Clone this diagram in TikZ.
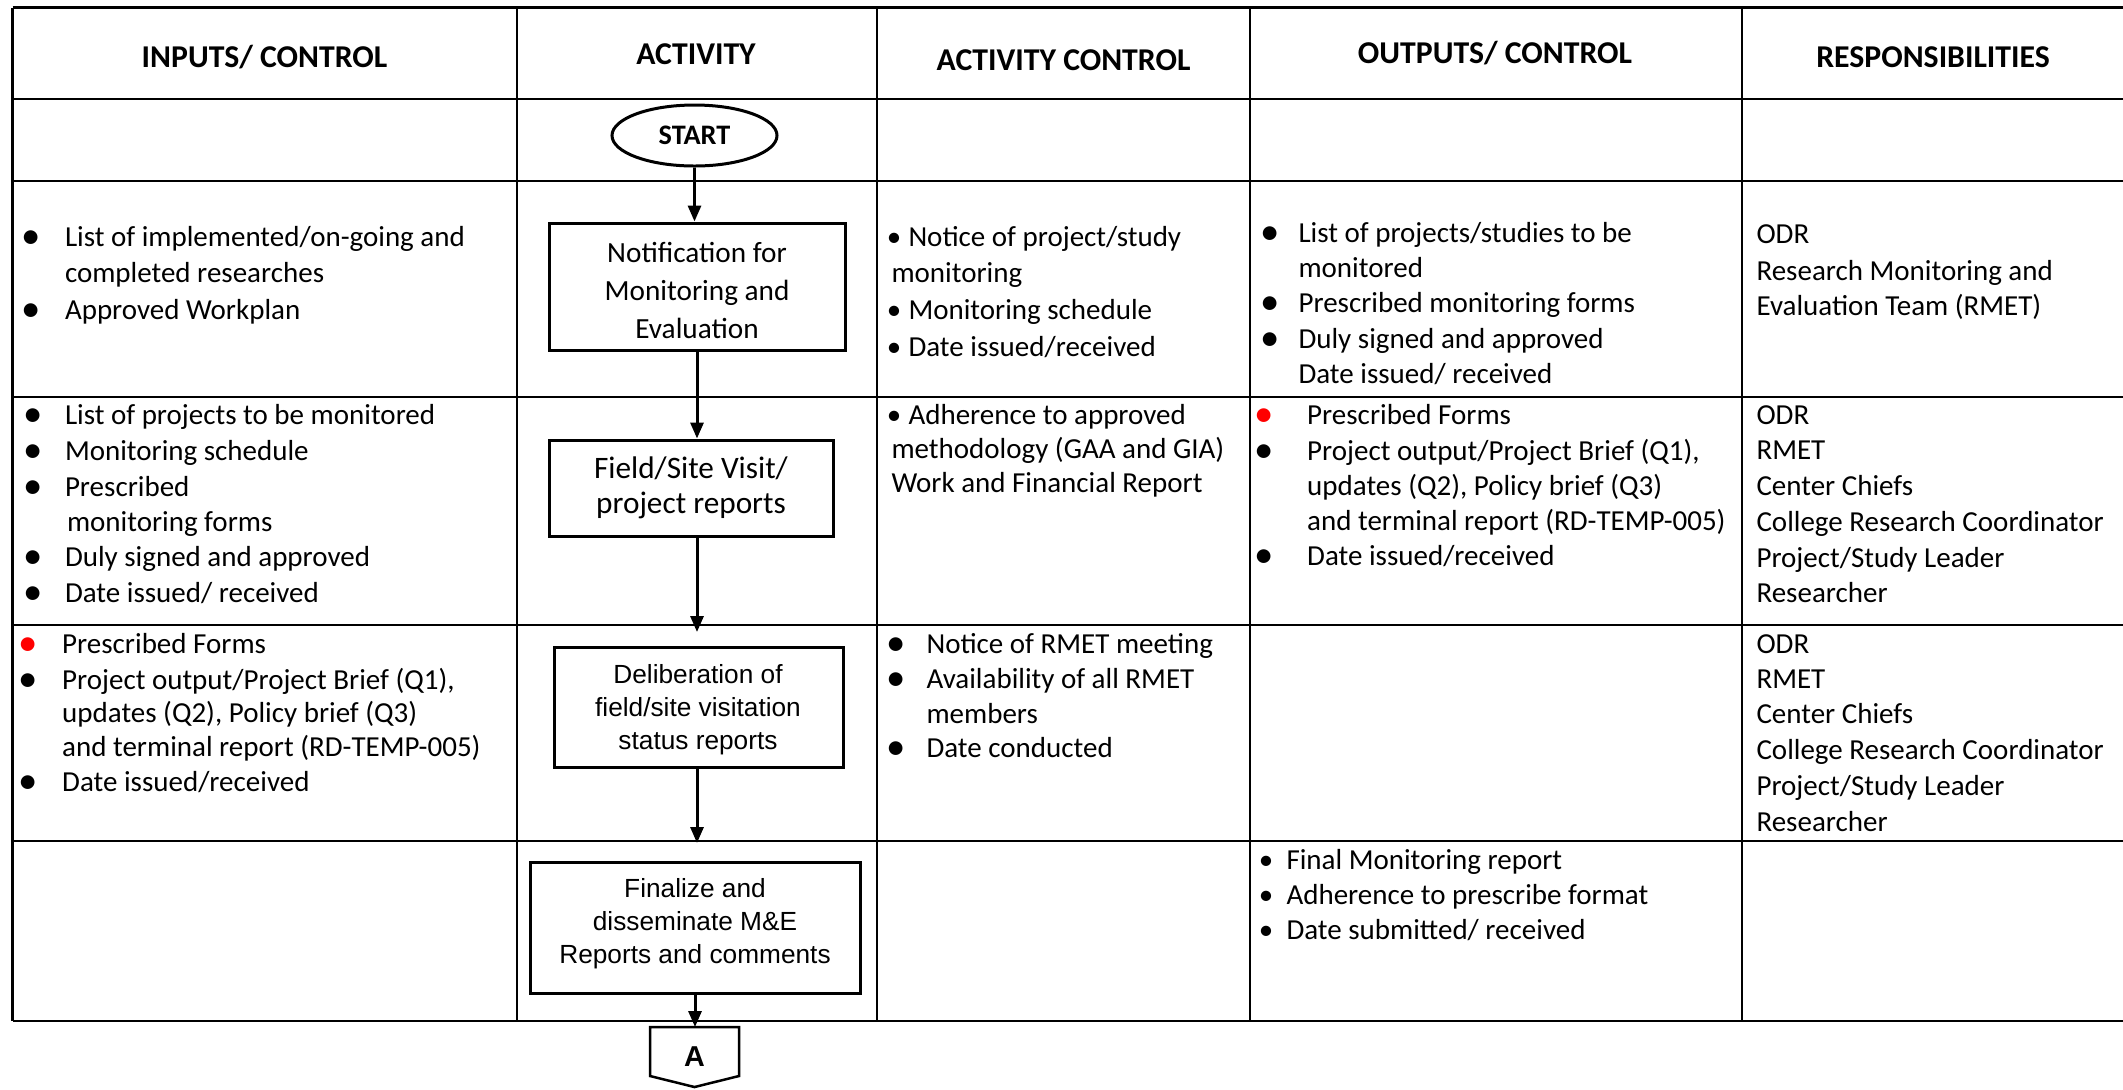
\documentclass[tikz,border=0pt]{standalone}
\usepackage{fontspec}
\setmainfont{Carlito}
\newfontfamily\arialf{Liberation Sans}
\usetikzlibrary{arrows.meta,shapes.geometric}
\newcommand\Tx[3]{\node[txt] (#1) at (#2) {#3};}
\newcommand\Bu[2]{\node[bigbul] (#1) at (#2) {•};}
\newcommand\Sb[2]{\node[bul] (#1) at (#2) {•};}
\newcommand\RBu[2]{\node[bigbul,text=red] (#1) at (#2) {•};}
\newcommand\Ct[4]{\node[#1] (#2) at (#3) {#4};}
\begin{document}
\begin{tikzpicture}[x=0.4pt,y=-0.4pt,
  txt/.style={anchor=base west,inner sep=0pt,font=\fontsize{11.6}{14}\selectfont},
  bul/.style={anchor=base,inner sep=0pt,font=\fontsize{11.6}{14}\selectfont},
  bigbul/.style={anchor=base,inner sep=0pt,yshift=-0.8pt,font=\fontsize{15.5}{17}\selectfont},
  hdr/.style={anchor=base,inner sep=0pt,font=\bfseries\fontsize{12.7}{15}\selectfont},
  cal/.style={anchor=base,inner sep=0pt,font=\fontsize{11.7}{14}\selectfont},
  calb/.style={anchor=base,inner sep=0pt,font=\fontsize{12.5}{15}\selectfont},
  ari/.style={anchor=base,inner sep=0pt,font=\arialf\fontsize{10.5}{13}\selectfont},
  hline/.style={line width=0.95pt},
  vline/.style={line width=0.8pt},
  procbox/.style={draw,line width=1.2pt,rectangle,inner sep=0pt},
  flow/.style={line width=1.2pt,-{Triangle[length=6.4pt,width=5.2pt]}},
]
\path[use as bounding box] (0,0) rectangle (2123,1089);
\begin{scope}
\clip (0,0) rectangle (2123,1089);
% table grid
\foreach \yy in {7.5,99,181,397,625,841,1021}
  \draw[hline] (12.5,\yy) -- (2130,\yy);
\draw[hline] (12.5,7.5) -- (12.5,1021);
\foreach \xx in {517,877,1250,1742}
  \draw[vline] (\xx,7.5) -- (\xx,1021);
\end{scope}

% headers
\Ct{hdr}{h1}{264.5,67}{INPUTS/ CONTROL}
\Ct{hdr}{h2}{696,64.5}{ACTIVITY}
\Ct{hdr}{h3}{1063.5,70.5}{ACTIVITY CONTROL}
\Ct{hdr}{h4}{1495,63.5}{OUTPUTS/ CONTROL}
\Ct{hdr}{h5}{1933,67.5}{RESPONSIBILITIES}

% flow shapes
\node[draw,ellipse,line width=1.2pt,inner sep=0pt,minimum width=66pt,minimum height=24.4pt,
      font=\bfseries\fontsize{11.3}{13}\selectfont] (start) at (694.5,135.5) {START};
\node[procbox,minimum width=118.4pt,minimum height=50.8pt] (notif) at (697,286.5) {};
\node[procbox,minimum width=113.6pt,minimum height=38.4pt] (field) at (691,488) {};
\node[procbox,minimum width=115.6pt,minimum height=48pt] (delib) at (698.5,707) {};
\node[procbox,minimum width=132pt,minimum height=52.4pt] (fin) at (695,927.5) {};
\coordinate (t3) at (697,632);
\coordinate (t4) at (697,843);
\coordinate (Atop) at (695,1027);
\draw[line width=1pt] (650,1027) -- (739,1027) -- (739,1076) -- (694.5,1087) -- (650,1076) -- cycle;
\node[anchor=base,inner sep=0pt,font=\arialf\bfseries\fontsize{11.5}{13}\selectfont] (Alab) at (694.5,1066.5) {A};

% box texts
\Ct{cal}{n1a}{697,262}{Notification for}
\Ct{cal}{n1b}{697,300}{Monitoring and}
\Ct{cal}{n1c}{697,338}{Evaluation}
\Ct{calb}{n2a}{691,478}{Field/Site Visit/}
\Ct{calb}{n2b}{691,513}{project reports}
\Ct{ari}{n3a}{698,683}{Deliberation of}
\Ct{ari}{n3b}{698,716}{field/site visitation}
\Ct{ari}{n3c}{698,749}{status reports}
\Ct{ari}{n4a}{695,897}{Finalize and}
\Ct{ari}{n4b}{695,930.5}{disseminate M\&E}
\Ct{ari}{n4c}{695,963.5}{Reports and comments}

% arrows
\draw[flow] (start.south) -- (start.south |- notif.north);
\draw[flow] (notif.south) -- (notif.south |- field.north);
\draw[flow] (t3 |- field.south) -- (t3);
\draw[flow] (t4 |- delib.south) -- (t4);
\draw[flow] (fin.south) -- (Atop);

% Row 1
\Bu{b11a}{31.5,246} \Tx{t11a}{64.5,246}{List of implemented/on-going and}
\Tx{t11b}{64.5,282}{completed researches}
\Bu{b11c}{31.5,319} \Tx{t11c}{64.5,319}{Approved Workplan}

\Sb{b13a}{894,246} \Tx{t13a}{908,246}{Notice of project/study}
\Tx{t13b}{891,282}{monitoring}
\Sb{b13c}{894,319} \Tx{t13c}{908,319}{Monitoring schedule}
\Sb{b13d}{894,356} \Tx{t13d}{908,356}{Date issued/received}

\Bu{b14a}{1270,242} \Tx{t14a}{1298,242}{List of projects/studies to be}
\Tx{t14b}{1298,277}{monitored}
\Bu{b14c}{1270,312} \Tx{t14c}{1298,312}{Prescribed monitoring forms}
\Bu{b14d}{1270,348} \Tx{t14d}{1298,348}{Duly signed and approved}
\Tx{t14e}{1298,383}{Date issued/ received}

\Tx{t15a}{1756,243}{ODR}
\Tx{t15b}{1756,280}{Research Monitoring and}
\Tx{t15c}{1756,315}{Evaluation Team (RMET)}

% Row 2
\Bu{b21a}{33,424} \Tx{t21a}{64.5,424}{List of projects to be monitored}
\Bu{b21b}{33,460} \Tx{t21b}{64.5,460}{Monitoring schedule}
\Bu{b21c}{33,496} \Tx{t21c}{64.5,496}{Prescribed}
\Tx{t21d}{66.5,531}{monitoring forms}
\Bu{b21e}{33,566} \Tx{t21e}{64.5,566}{Duly signed and approved}
\Bu{b21f}{33,602} \Tx{t21f}{64.5,602}{Date issued/ received}

\Sb{b23a}{894,424} \Tx{t23a}{908,424}{Adherence to approved}
\Tx{t23b}{891,458}{methodology (GAA and GIA)}
\Tx{t23c}{891,492}{Work and Financial Report}

\RBu{b24a}{1264,424} \Tx{t24a}{1306.7,424}{Prescribed Forms}
\Bu{b24b}{1264,460} \Tx{t24b}{1306.7,460}{Project output/Project Brief (Q1),}
\Tx{t24c}{1306.7,495}{updates (Q2), Policy brief (Q3)}
\Tx{t24d}{1306.7,530}{and terminal report (RD-TEMP-005)}
\Bu{b24e}{1264,565} \Tx{t24e}{1306.7,565}{Date issued/received}

\Tx{t25a}{1756,424}{ODR}
\Tx{t25b}{1756,459}{RMET}
\Tx{t25c}{1756,495}{Center Chiefs}
\Tx{t25d}{1756,531}{College Research Coordinator}
\Tx{t25e}{1756,567}{Project/Study Leader}
\Tx{t25f}{1756,602}{Researcher}

% Row 3
\RBu{b31a}{28,653} \Tx{t31a}{61.7,653}{Prescribed Forms}
\Bu{b31b}{28,689} \Tx{t31b}{61.7,689}{Project output/Project Brief (Q1),}
\Tx{t31c}{61.7,722}{updates (Q2), Policy brief (Q3)}
\Tx{t31d}{61.7,756}{and terminal report (RD-TEMP-005)}
\Bu{b31e}{28,791} \Tx{t31e}{61.7,791}{Date issued/received}

\Bu{b33a}{896.5,653} \Tx{t33a}{926,653}{Notice of RMET meeting}
\Bu{b33b}{896.5,688} \Tx{t33b}{926,688}{Availability of all RMET}
\Tx{t33c}{926,723}{members}
\Bu{b33d}{896.5,757} \Tx{t33d}{926,757}{Date conducted}

\Tx{t35a}{1756,653}{ODR}
\Tx{t35b}{1756,688}{RMET}
\Tx{t35c}{1756,723}{Center Chiefs}
\Tx{t35d}{1756,759}{College Research Coordinator}
\Tx{t35e}{1756,795}{Project/Study Leader}
\Tx{t35f}{1756,831}{Researcher}

% Row 4
\Sb{b44a}{1266,869} \Tx{t44a}{1286,869}{Final Monitoring report}
\Sb{b44b}{1266,904} \Tx{t44b}{1286,904}{Adherence to prescribe format}
\Sb{b44c}{1266,939} \Tx{t44c}{1286,939}{Date submitted/ received}
\end{tikzpicture}
\end{document}
